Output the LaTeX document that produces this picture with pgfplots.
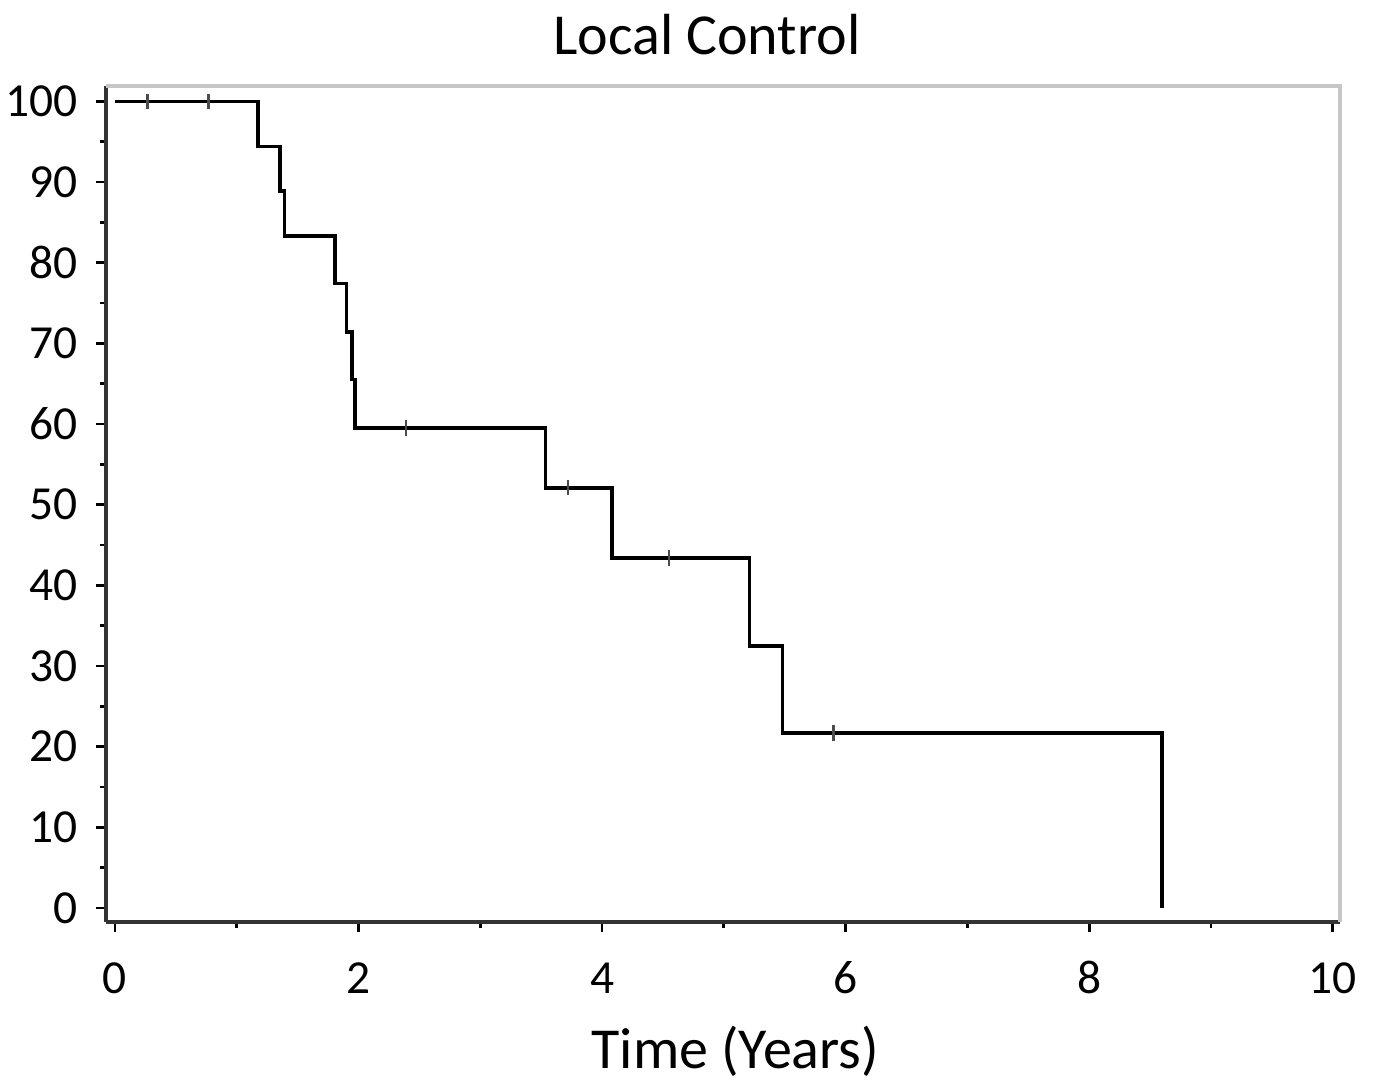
\documentclass[border=0pt]{standalone}
\usepackage{pgfplots}
\pgfplotsset{compat=1.18}
\usepackage{fontspec}
\setmainfont{Carlito}
\begin{document}
\begin{tikzpicture}
\path[use as bounding box] (-1.06cm,-1.65cm) rectangle (12.70cm,9.22cm);
\begin{axis}[
  scale only axis,
  width=12.34cm, height=8.36cm,
  xmin=-0.074, xmax=10.06,
  ymin=-1.73, ymax=101.9,
  axis x line*=bottom, axis y line*=left,
  axis line style={-, line width=1.1pt, black!80},
  xtick={0,2,...,10}, minor xtick={1,3,...,9},
  ytick={0,10,...,100}, minor ytick={5,15,...,95},
  tick align=outside,
  major tick length=0.1cm, minor tick length=0.06cm,
  tick style={black, line width=0.8pt},
  /pgf/number format/assume math mode=true,
  ticklabel style={font=\fontsize{13.5}{16}\selectfont},
  xticklabel style={anchor=base, yshift=-0.61cm},
  yticklabel style={anchor=east, inner sep=0pt, xshift=-0.18cm},
  title={Local Control},
  title style={at={(rel axis cs:0.487,1)}, anchor=base, yshift=0.10cm, font=\fontsize{16.5}{20}\selectfont},
  xlabel={Time (Years)},
  xlabel style={at={(rel axis cs:0.51,0)}, anchor=base, yshift=-1.46cm, font=\fontsize{16.5}{20}\selectfont},
  clip=false,
]
\draw[black!22, line width=0.9pt] (rel axis cs:0,1) -- (rel axis cs:1,1) -- (rel axis cs:1,0);
\addplot[const plot mark left, black, line width=1pt, no marks] coordinates {
(0,100) (1.174,94.4) (1.355,88.9) (1.39,83.3) (1.806,77.4) (1.90,71.4) (1.946,65.5) (1.97,59.5)
(3.536,52.1) (4.08,43.4) (5.21,32.5) (5.48,21.7) (8.60,0)
};
\addplot[only marks, mark=|, mark size=2.2pt, black!70, mark options={line width=0.8pt}] coordinates {
(0.27,100) (0.77,100) (2.39,59.5) (3.72,52.1) (4.55,43.4) (5.90,21.7)
};
\end{axis}
\end{tikzpicture}
\end{document}
